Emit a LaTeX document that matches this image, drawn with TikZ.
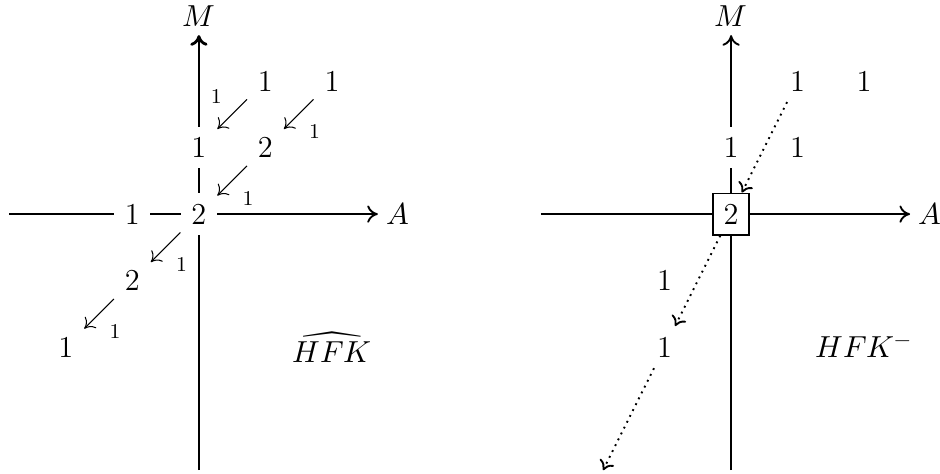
\documentclass[tikz,border=0pt]{standalone}
\usepackage{unicode-math}
\setmathfont{Latin Modern Math}
\usetikzlibrary{arrows.meta}
\tikzset{
  axis/.style={line width=0.8pt, -{To[length=1.6mm, width=2.6mm]}},
  ent/.style={fill=white, inner sep=4.5pt, font=\fontsize{13}{15}\selectfont},
  gen/.style={draw, line width=0.8pt, fill=white, inner sep=1pt, minimum width=0.54cm, minimum height=0.62cm, font=\fontsize{13}{15}\selectfont},
  arr/.style={-{To[length=1.4mm, width=2.4mm]}, line width=0.45pt},
  darr/.style={-{To[length=1.4mm, width=2.4mm]}, dotted, line width=0.8pt},
  lbl/.style={font=\fontsize{9}{11}\selectfont, inner sep=1.5pt, outer sep=3pt},
  ttl/.style={font=\fontsize{13}{15}\selectfont}
}
\begin{document}
\begin{tikzpicture}[x=1cm, y=1cm]
  \useasboundingbox (-2.99,-3.895) rectangle (11.14,3.218);

  % left: hat version
  \coordinate (lw) at (-2.85,0);
  \coordinate (le) at (2.69,0);
  \coordinate (ls) at (0,-3.85);
  \coordinate (ln) at (0,2.69);
  \draw[axis] (lw) -- (le);
  \draw[axis, line width=1.2pt] (ls) -- (ln);
  \node[ttl] (lA) at (2.99,0) {$A$};
  \node[ttl] (lM) at (0,2.98) {$M$};

  \node[ent] (l00) at (0,0) {2};
  \node[ent] (lm0) at (-1,0) {1};
  \node[ent] (l01) at (0,1) {1};
  \node[ent] (l11) at (1,1) {2};
  \node[ent] (l12) at (1,2) {1};
  \node[ent] (l22) at (2,2) {1};
  \node[ent] (lm1) at (-1,-1) {2};
  \node[ent] (lm2) at (-2,-2) {1};

  \draw[arr] (l12) -- node[lbl, above left] {1} (l01);
  \draw[arr] (l22) -- node[lbl, below right] {1} (l11);
  \draw[arr] (l11) -- node[lbl, below right] {1} (l00);
  \draw[arr] (l00) -- node[lbl, below right] {1} (lm1);
  \draw[arr] (lm1) -- node[lbl, below right] {1} (lm2);

  \node[ttl] (lhat) at (2,-2) {$\widehat{HFK}$};

  % right: minus version
  \begin{scope}[xshift=8cm]
    \coordinate (rw) at (-2.86,0);
    \coordinate (re) at (2.69,0);
    \coordinate (rs) at (0,-3.85);
    \coordinate (rn) at (0,2.69);
    \draw[axis] (rw) -- (re);
    \draw[axis] (rs) -- (rn);
    \node[ttl] (rA) at (2.99,0) {$A$};
    \node[ttl] (rM) at (0,2.98) {$M$};

    \node[gen] (r00) at (0,0) {2};
    \node[ent] (r01) at (0,1) {1};
    \node[ent] (r11) at (1,1) {1};
    \node[ent] (r12) at (1,2) {1};
    \node[ent] (r22) at (2,2) {1};
    \node[ent] (rm1) at (-1,-1) {1};
    \node[ent] (rm2) at (-1,-2) {1};
    \coordinate (rend) at (-1.925,-3.85);

    \draw[darr] (r12) -- (r00);
    \draw[darr] (r00) -- (rm2);
    \draw[darr] (rm2) -- (rend);

    \node[ttl] (rminus) at (2,-2) {$HFK^-$};
  \end{scope}
\end{tikzpicture}
\end{document}
